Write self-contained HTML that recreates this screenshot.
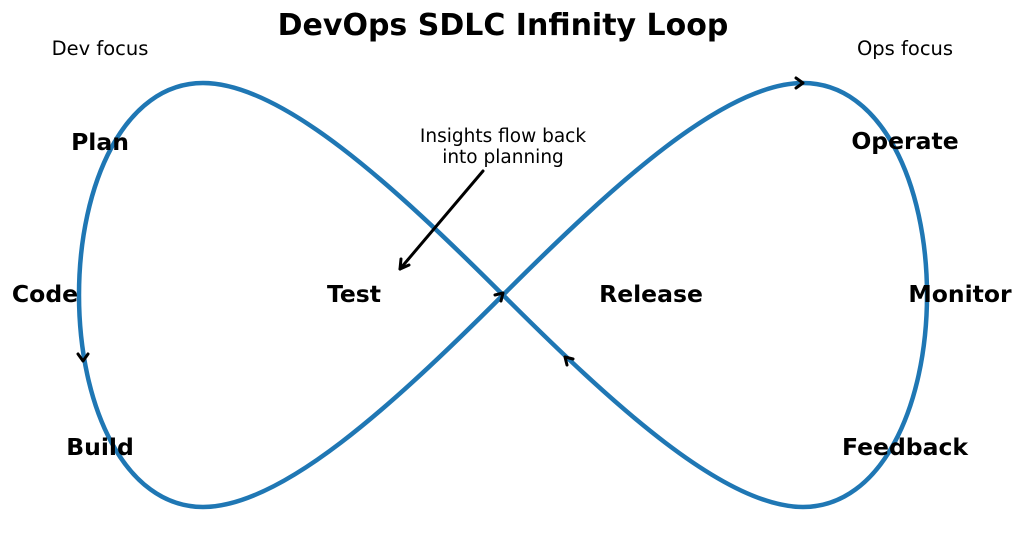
<!DOCTYPE html>
<html><head><meta charset="utf-8"><style>
html,body{margin:0;padding:0;background:#fff;}
svg{display:block;font-family:"DejaVu Sans","Liberation Sans",sans-serif;}
</style></head><body>
<svg width="1024" height="540" viewBox="0 0 1024 540" xmlns="http://www.w3.org/2000/svg">
<rect width="1024" height="540" fill="#fff"/>
<path d="M927,295 C927,184 881.5,83 803,83 C724.5,83 614,184 503,295 C392,406 281.5,507 203,507 C124.5,507 79,406 79,295 C79,184 124.5,83 203,83 C281.5,83 392,184 503,295 C614,406 724.5,507 803,507 C881.5,507 927,406 927,295Z" fill="none" stroke="#1f77b4" stroke-width="4.5"/>
<g fill="none" stroke="#000" stroke-width="3" stroke-linecap="round" stroke-linejoin="round">
<polyline points="796,78 803,83 796,88"/>
<polyline points="78,354 83,361 88,354"/>
<polyline points="495,295 503,293 501,301"/>
<polyline points="567,365 565,357 573,359"/>
<line x1="483" y1="171" x2="400" y2="269"/>
<polyline points="401,259 400,269 409,265"/>
</g>
<text x="503" y="35" text-anchor="middle" font-size="30" font-weight="bold">DevOps SDLC Infinity Loop</text>
<text x="100" y="55" text-anchor="middle" font-size="19.5">Dev focus</text>
<text x="905" y="55" text-anchor="middle" font-size="19.5">Ops focus</text>
<text x="503" y="142" text-anchor="middle" font-size="18.5">Insights flow back</text>
<text x="503" y="163" text-anchor="middle" font-size="18.5">into planning</text>
<g font-size="23.5" font-weight="bold" text-anchor="middle">
<text x="100" y="150">Plan</text>
<text x="45" y="302">Code</text>
<text x="354" y="302">Test</text>
<text x="100" y="455">Build</text>
<text x="651" y="302">Release</text>
<text x="905" y="149">Operate</text>
<text x="960" y="302">Monitor</text>
<text x="905" y="455">Feedback</text>
</g>
</svg>
</body></html>
